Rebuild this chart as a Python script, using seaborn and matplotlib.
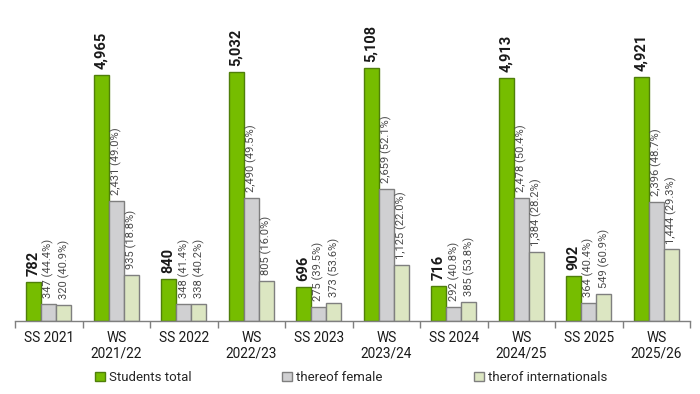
import numpy as np
import pandas as pd
import matplotlib
matplotlib.use("Agg")
import matplotlib.pyplot as plt
import matplotlib.ticker as ticker
import seaborn as sns

# data
semesters = ["SS 2021", "WS\n2021/22", "SS 2022", "WS\n2022/23", "SS 2023",
             "WS\n2023/24", "SS 2024", "WS\n2024/25", "SS 2025", "WS\n2025/26"]
students_total = [782, 4965, 840, 5032, 696, 5108, 716, 4913, 902, 4921]
thereof_female = [347, 2431, 348, 2490, 275, 2659, 292, 2478, 364, 2396]
thereof_intl = [320, 935, 338, 805, 373, 1125, 385, 1384, 549, 1444]

series_names = ["Students total", "thereof female", "therof internationals"]
fill_colors = ["#76bd00", "#d0d0d2", "#dce6c2"]
edge_colors = ["#4f7f0a", "#7f7f7f", "#7f7f7f"]

sns.set_theme(style="white")
plt.rcParams["font.family"] = ["Roboto", "DejaVu Sans"]

df = pd.DataFrame({
    "semester": semesters * 3,
    "series": np.repeat(series_names, len(semesters)),
    "value": students_total + thereof_female + thereof_intl,
})

fig = plt.figure(figsize=(7, 3.94), dpi=100)
ax = fig.add_axes([15 / 700, 1 - 321 / 394, 675 / 700, 321 / 394])

sns.barplot(data=df, x="semester", y="value", hue="series",
            hue_order=series_names, order=semesters,
            palette=fill_colors, saturation=1, width=0.667, gap=0, ax=ax,
            linewidth=1.0, legend=True)

for cont, ec in zip(ax.containers, edge_colors):
    for bar in cont:
        bar.set_edgecolor(ec)

# value labels
for i, cont in enumerate(ax.containers):
    for j, bar in enumerate(cont):
        x = bar.get_x() + bar.get_width() / 2
        h = bar.get_height()
        if i == 0:
            ax.text(x, h + 120, f"{students_total[j]:,}", rotation=90,
                    ha="center", va="bottom", fontsize=10.5, fontweight="bold",
                    color="#1a1a1a")
        else:
            v = thereof_female[j] if i == 1 else thereof_intl[j]
            pct = 100 * v / students_total[j]
            ax.text(x, h + 120, f"{v:,} ({pct:.1f}%)", rotation=90,
                    ha="center", va="bottom", fontsize=8, color="#4a4a4a")

ax.set_xlim(-0.5, len(semesters) - 0.5)
ax.set_ylim(0, 6480)
ax.set_xlabel("")
ax.set_ylabel("")
ax.set_yticks([])
for s in ["top", "right", "left"]:
    ax.spines[s].set_visible(False)
ax.spines["bottom"].set_color("#7f7f7f")
ax.spines["bottom"].set_linewidth(1.0)

ax.tick_params(axis="x", which="major", length=0, pad=7, labelsize=9.8,
               labelcolor="#1a1a1a")
ax.xaxis.set_minor_locator(ticker.FixedLocator(np.arange(-0.5, len(semesters), 1)))
ax.tick_params(axis="x", which="minor", length=5, width=1.0, color="#7f7f7f",
               direction="out", bottom=True)

handles, labels = ax.get_legend_handles_labels()
for hnd, ec in zip(handles, edge_colors):
    hnd.set_edgecolor(ec)
ax.legend_.remove()
fig.legend(handles, labels, loc="lower left", bbox_to_anchor=(83 / 700, -0.005),
           ncol=3, frameon=False, fontsize=9.5, handlelength=0.75,
           handleheight=0.75, handletextpad=0.3, columnspacing=6.9)

fig.savefig("out.png", dpi=100, facecolor="white")
